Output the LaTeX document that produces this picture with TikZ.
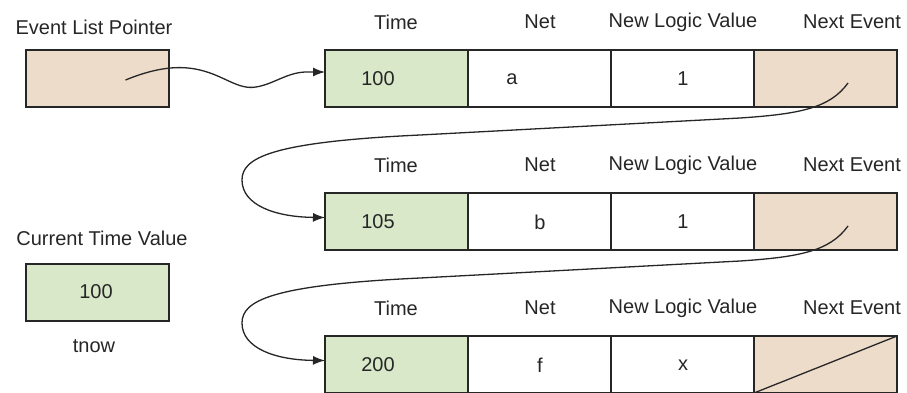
\documentclass[tikz,border=0pt]{standalone}
\usepackage{fontspec}
\setmainfont{Liberation Sans}
\usetikzlibrary{arrows.meta,calc}
\definecolor{cellgreen}{HTML}{D9E8C9}
\definecolor{celltan}{HTML}{EEDCCB}
\definecolor{ink}{HTML}{262626}
\begin{document}
\begin{tikzpicture}[x=1pt,y=-1pt,
  font=\fontsize{20}{23}\selectfont,
  cell/.style={draw=ink, line width=1.3pt, minimum width=143pt, minimum height=57pt,
    anchor=north west, inner sep=0pt, outer sep=0pt, fill=white},
  gcell/.style={cell, fill=cellgreen},
  tcell/.style={cell, fill=celltan},
  txt/.style={text=ink, inner sep=0pt, anchor=center},
  link/.style={draw=ink, line width=1.3pt, -{Latex[length=12pt,width=9pt]}}]
\useasboundingbox (0,0) rectangle (907,392);

% left boxes
\node[txt] (lptr) at (94,27) {Event List Pointer};
\node[tcell] (ptr) at (26,50) {};
\node[txt] (lctv) at (102,238) {Current Time Value};
\node[gcell] (ctv) at (26,264) {};
\node[txt] (vctv) at (96,292) {100};
\node[txt] (tnow) at (94,346) {tnow};

% rows
\foreach \r/\y/\t/\n/\v in {1/50/100/a/1, 2/193/105/b/1, 3/336/200/f/x}{
  \node[txt] (h\r a) at (396,\y-28) {Time};
  \node[txt] (h\r b) at (540,\y-28) {Net};
  \node[txt] (h\r c) at (683,\y-28) {New Logic Value};
  \node[txt] (h\r d) at (852,\y-28) {Next Event};
  \node[gcell] (c\r a) at (325,\y) {};
  \node[cell]  (c\r b) at (468,\y) {};
  \node[cell]  (c\r c) at (611,\y) {};
  \node[tcell] (c\r d) at (754,\y) {};
  \node[txt] (v\r a) at (378,\y+29) {\t};
  \node[txt] (v\r c) at (683,\y+29) {\v};
}
\node[txt] (v1b) at (512,79) {a};
\node[txt] (v2b) at (540,222) {b};
\node[txt] (v3b) at (540,365) {f};

% diagonal for null pointer
\draw[draw=ink, line width=1.3pt] (c3d.south west) -- (c3d.north east);

% pointer arrow
\coordinate (ps) at ($(ptr.center)+(28,1.5)$);
\draw[link] (ps) .. controls (150,70) and (175,64) .. (200,70)
  .. controls (225,76) and (238,90) .. (256,87)
  .. controls (274,84) and (286,73) .. (305,72) -- ([yshift=6.5pt]c1a.west);

% row links
\coordinate (s1) at (848,83);
\draw[link] (s1) .. controls (830,108) and (800,114) .. (740,118) -- (420,135)
  .. controls (270,142) and (242,158) .. (242,180)
  .. controls (242,205) and (275,217) .. ([yshift=4pt]c2a.west);
\coordinate (s2) at (848,226);
\draw[link] (s2) .. controls (830,251) and (800,257) .. (740,261) -- (420,278)
  .. controls (270,285) and (242,301) .. (242,323)
  .. controls (242,348) and (275,360) .. ([yshift=4pt]c3a.west);
\end{tikzpicture}
\end{document}
